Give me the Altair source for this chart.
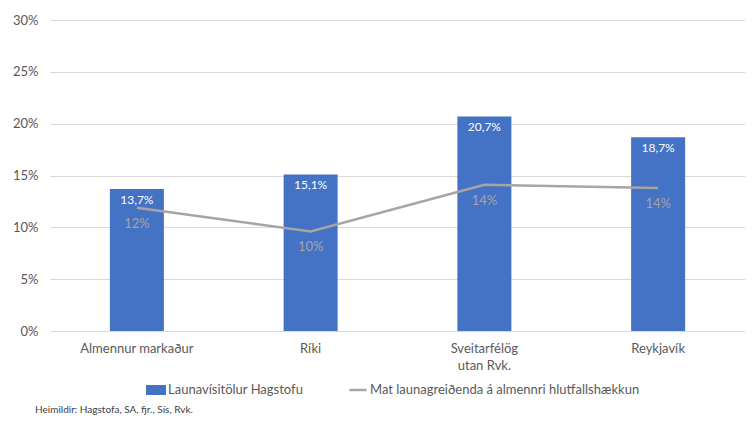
import altair as alt
import pandas as pd

categories = ["Almennur markaður", "Ríki", "Sveitarfélög\nutan Rvk.", "Reykjavík"]
launavisitala = [13.7, 15.1, 20.7, 18.7]
mat_launagreidenda = [11.9, 9.6, 14.1, 13.8]
series_names = ["Launavísitölur Hagstofu", "Mat launagreiðenda á almennri hlutfallshækkun"]
source_note = ["Heimildir: Hagstofa, SA, fjr., Sís, Rvk."]

df = pd.DataFrame({
    "cat": categories,
    "bar": launavisitala,
    "line": mat_launagreidenda,
    "s1": series_names[0],
    "s2": series_names[1],
})

FONT = "Lato"
BLUE = "#4472C4"
GRAY = "#A5A5A5"
TXT = "#595959"

x = alt.X("cat:N", sort=categories, title=None,
          scale=alt.Scale(paddingInner=0, paddingOuter=0),
          axis=alt.Axis(labelExpr="split(datum.label, '\\n')", labelAngle=0,
                        labelFontSize=13, labelColor=TXT, labelFont=FONT,
                        labelPadding=11, ticks=False, domain=False, grid=False,
                        labelLineHeight=17))
yscale = alt.Scale(domain=[0, 30], nice=False)

base = alt.Chart(df)

bars = base.mark_bar(size=54, color=BLUE).encode(
    x=x,
    y=alt.Y("bar:Q", scale=yscale, title=None,
            axis=alt.Axis(values=[0, 5, 10, 15, 20, 25, 30], labelExpr="datum.value + '%'",
                          labelFontSize=13, labelColor=TXT, labelFont=FONT,
                          labelPadding=12, ticks=False, domain=False,
                          gridColor="#D9D9D9", gridWidth=1)),
    fill=alt.Fill("s1:N", scale=alt.Scale(range=[BLUE]),
                  legend=alt.Legend(title=None, orient="none", legendX=96, legendY=360,
                                    padding=0, labelLimit=0,
                                    symbolType="M-1,-0.5H1V0.5H-1Z", symbolSize=400,
                                    symbolStrokeWidth=0,
                                    labelFontSize=13, labelColor=TXT, labelFont=FONT,
                                    labelOffset=2)),
)

bar_labels = base.mark_text(color="white", fontSize=12, font=FONT, baseline="middle", dy=11).encode(
    x=alt.X("cat:N", sort=categories),
    y=alt.Y("bar:Q", scale=yscale),
    text=alt.Text("lbl:N"),
).transform_calculate(lbl="replace(format(datum.bar, '.1f'), '.', ',') + '%'")

line = base.mark_line(strokeWidth=2.5).encode(
    x=alt.X("cat:N", sort=categories),
    y=alt.Y("line:Q", scale=yscale),
    stroke=alt.Stroke("s2:N", scale=alt.Scale(range=[GRAY]),
                      legend=alt.Legend(title=None, orient="none", legendX=298, legendY=360,
                                        padding=0, labelLimit=0,
                                        symbolType="stroke", symbolSize=289, symbolStrokeWidth=2.5,
                                        labelFontSize=13, labelColor=TXT, labelFont=FONT,
                                        labelOffset=2)),
)

line_labels = base.mark_text(color=GRAY, fontSize=13, font=FONT, baseline="middle", dy=16).encode(
    x=alt.X("cat:N", sort=categories),
    y=alt.Y("line:Q", scale=yscale),
    text=alt.Text("lbl:N"),
).transform_calculate(lbl="format(datum.line, '.0f') + '%'")

note = alt.Chart(pd.DataFrame({"t": source_note})).mark_text(
    align="left", baseline="middle", fontSize=10, font=FONT, color="#404040"
).encode(x=alt.value(-15), y=alt.value(390), text="t:N")

chart = alt.layer(bars, bar_labels, line, line_labels, note).resolve_scale(
    fill="independent", stroke="independent"
).properties(
    width=695, height=311,
    autosize=alt.AutoSizeParams(type="none"),
    padding={"left": 42, "top": 12, "right": 2, "bottom": 84},
    background="white",
).configure_view(stroke=None)

chart.save("out.html", embed_options={"renderer": "svg", "actions": False})
